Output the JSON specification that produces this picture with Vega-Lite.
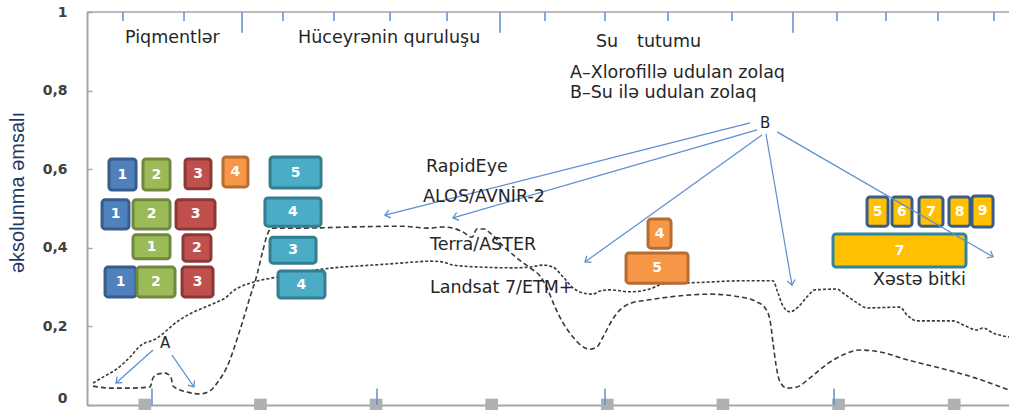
{
  "$schema": "https://vega.github.io/schema/vega-lite/v6.json",
  "width": 922,
  "height": 393,
  "autosize": {"type": "none"},
  "padding": {"left": 87, "top": 12, "right": 0, "bottom": 5},
  "config": {"view": {"stroke": null}},
  "datasets": {
    "spectra": [
      {"s":"a","x":0.052,"y":0.048},{"s":"a","x":0.199,"y":0.043},{"s":"a","x":0.372,"y":0.043},{"s":"a","x":0.545,"y":0.046},{"s":"a","x":0.571,"y":0.069},{"s":"a","x":0.614,"y":0.079},{"s":"a","x":0.675,"y":0.081},{"s":"a","x":0.726,"y":0.071},{"s":"a","x":0.744,"y":0.048},{"s":"a","x":0.865,"y":0.033},{"s":"a","x":0.977,"y":0.028},{"s":"a","x":1.064,"y":0.036},{"s":"a","x":1.133,"y":0.059},{"s":"a","x":1.211,"y":0.097},{"s":"a","x":1.323,"y":0.191},{"s":"a","x":1.410,"y":0.275},{"s":"a","x":1.470,"y":0.331},{"s":"a","x":1.522,"y":0.394},{"s":"a","x":1.565,"y":0.438},{"s":"a","x":1.600,"y":0.450},{"s":"a","x":1.842,"y":0.450},{"s":"a","x":2.275,"y":0.453},{"s":"a","x":2.707,"y":0.455},{"s":"a","x":2.966,"y":0.450},{"s":"a","x":3.079,"y":0.453},{"s":"a","x":3.165,"y":0.450},{"s":"a","x":3.252,"y":0.440},{"s":"a","x":3.330,"y":0.427},{"s":"a","x":3.373,"y":0.448},{"s":"a","x":3.434,"y":0.448},{"s":"a","x":3.485,"y":0.438},{"s":"a","x":3.598,"y":0.405},{"s":"a","x":3.719,"y":0.374},{"s":"a","x":3.831,"y":0.349},{"s":"a","x":3.918,"y":0.328},{"s":"a","x":3.978,"y":0.298},{"s":"a","x":4.048,"y":0.249},{"s":"a","x":4.117,"y":0.209},{"s":"a","x":4.203,"y":0.173},{"s":"a","x":4.290,"y":0.148},{"s":"a","x":4.350,"y":0.142},{"s":"a","x":4.411,"y":0.148},{"s":"a","x":4.463,"y":0.173},{"s":"a","x":4.541,"y":0.216},{"s":"a","x":4.610,"y":0.242},{"s":"a","x":4.714,"y":0.260},{"s":"a","x":4.852,"y":0.267},{"s":"a","x":5.042,"y":0.275},{"s":"a","x":5.388,"y":0.282},{"s":"a","x":5.648,"y":0.275},{"s":"a","x":5.795,"y":0.262},{"s":"a","x":5.864,"y":0.247},{"s":"a","x":5.907,"y":0.216},{"s":"a","x":5.933,"y":0.158},{"s":"a","x":5.959,"y":0.102},{"s":"a","x":5.993,"y":0.059},{"s":"a","x":6.054,"y":0.043},{"s":"a","x":6.141,"y":0.046},{"s":"a","x":6.253,"y":0.069},{"s":"a","x":6.400,"y":0.104},{"s":"a","x":6.556,"y":0.130},{"s":"a","x":6.685,"y":0.140},{"s":"a","x":6.858,"y":0.135},{"s":"a","x":7.092,"y":0.115},{"s":"a","x":7.377,"y":0.094},{"s":"a","x":7.680,"y":0.069},{"s":"a","x":7.974,"y":0.038},
      {"s":"b","x":0.052,"y":0.056},{"s":"b","x":0.156,"y":0.074},{"s":"b","x":0.259,"y":0.092},{"s":"b","x":0.372,"y":0.122},{"s":"b","x":0.458,"y":0.150},{"s":"b","x":0.605,"y":0.170},{"s":"b","x":0.675,"y":0.186},{"s":"b","x":0.744,"y":0.204},{"s":"b","x":0.891,"y":0.232},{"s":"b","x":1.021,"y":0.249},{"s":"b","x":1.124,"y":0.262},{"s":"b","x":1.194,"y":0.272},{"s":"b","x":1.263,"y":0.290},{"s":"b","x":1.410,"y":0.310},{"s":"b","x":1.557,"y":0.321},{"s":"b","x":1.712,"y":0.328},{"s":"b","x":1.929,"y":0.341},{"s":"b","x":2.128,"y":0.349},{"s":"b","x":2.361,"y":0.354},{"s":"b","x":2.621,"y":0.359},{"s":"b","x":2.837,"y":0.364},{"s":"b","x":2.966,"y":0.366},{"s":"b","x":3.079,"y":0.364},{"s":"b","x":3.165,"y":0.356},{"s":"b","x":3.399,"y":0.351},{"s":"b","x":3.684,"y":0.349},{"s":"b","x":3.831,"y":0.351},{"s":"b","x":3.944,"y":0.356},{"s":"b","x":4.030,"y":0.351},{"s":"b","x":4.117,"y":0.326},{"s":"b","x":4.203,"y":0.298},{"s":"b","x":4.290,"y":0.285},{"s":"b","x":4.376,"y":0.282},{"s":"b","x":4.437,"y":0.290},{"s":"b","x":4.523,"y":0.293},{"s":"b","x":4.696,"y":0.288},{"s":"b","x":4.869,"y":0.295},{"s":"b","x":4.982,"y":0.308},{"s":"b","x":5.155,"y":0.310},{"s":"b","x":5.388,"y":0.313},{"s":"b","x":5.648,"y":0.316},{"s":"b","x":5.933,"y":0.316},{"s":"b","x":5.976,"y":0.285},{"s":"b","x":6.019,"y":0.252},{"s":"b","x":6.080,"y":0.237},{"s":"b","x":6.149,"y":0.249},{"s":"b","x":6.227,"y":0.275},{"s":"b","x":6.296,"y":0.293},{"s":"b","x":6.486,"y":0.295},{"s":"b","x":6.538,"y":0.285},{"s":"b","x":6.659,"y":0.260},{"s":"b","x":6.746,"y":0.247},{"s":"b","x":7.031,"y":0.249},{"s":"b","x":7.092,"y":0.229},{"s":"b","x":7.178,"y":0.214},{"s":"b","x":7.490,"y":0.214},{"s":"b","x":7.576,"y":0.204},{"s":"b","x":7.697,"y":0.191},{"s":"b","x":7.749,"y":0.196},{"s":"b","x":7.836,"y":0.183},{"s":"b","x":7.974,"y":0.173}
    ],
    "topTicks": [
      {"x":0.311,"g":"minor"},{"x":0.839,"g":"minor"},{"x":1.341,"g":"major"},{"x":1.695,"g":"minor"},{"x":2.136,"g":"minor"},{"x":2.621,"g":"minor"},{"x":3.114,"g":"minor"},{"x":3.572,"g":"major"},{"x":3.961,"g":"minor"},{"x":4.480,"g":"minor"},{"x":5.025,"g":"minor"},{"x":5.578,"g":"minor"},{"x":6.106,"g":"major"},{"x":6.486,"g":"minor"},{"x":6.910,"g":"minor"},{"x":7.360,"g":"minor"},{"x":7.844,"g":"minor"}
    ],
    "bottomTicks": [{"x":0.562},{"x":2.508},{"x":4.480},{"x":6.461}],
    "markers": [{"x":0.5},{"x":1.5},{"x":2.5},{"x":3.5},{"x":4.5},{"x":5.5},{"x":6.5},{"x":7.5}],
    "boxes": [
      {"x1":0.190,"x2":0.424,"y1":0.547,"y2":0.626,"label":"1","band":"blue"},
      {"x1":0.484,"x2":0.718,"y1":0.547,"y2":0.626,"label":"2","band":"green"},
      {"x1":0.848,"x2":1.072,"y1":0.550,"y2":0.626,"label":"3","band":"red"},
      {"x1":1.176,"x2":1.392,"y1":0.555,"y2":0.631,"label":"4","band":"orange"},
      {"x1":1.583,"x2":2.024,"y1":0.552,"y2":0.631,"label":"5","band":"nir"},
      {"x1":0.130,"x2":0.363,"y1":0.448,"y2":0.522,"label":"1","band":"blue"},
      {"x1":0.398,"x2":0.718,"y1":0.448,"y2":0.522,"label":"2","band":"green"},
      {"x1":0.770,"x2":1.107,"y1":0.448,"y2":0.522,"label":"3","band":"red"},
      {"x1":1.539,"x2":2.024,"y1":0.455,"y2":0.527,"label":"4","band":"nir"},
      {"x1":0.398,"x2":0.718,"y1":0.372,"y2":0.433,"label":"1","band":"green"},
      {"x1":0.830,"x2":1.072,"y1":0.366,"y2":0.433,"label":"2","band":"red"},
      {"x1":1.583,"x2":1.981,"y1":0.361,"y2":0.427,"label":"3","band":"nir"},
      {"x1":0.156,"x2":0.424,"y1":0.275,"y2":0.351,"label":"1","band":"blue"},
      {"x1":0.432,"x2":0.761,"y1":0.275,"y2":0.351,"label":"2","band":"green"},
      {"x1":0.822,"x2":1.090,"y1":0.275,"y2":0.351,"label":"3","band":"red"},
      {"x1":1.652,"x2":2.058,"y1":0.272,"y2":0.341,"label":"4","band":"nir"},
      {"x1":4.852,"x2":5.051,"y1":0.399,"y2":0.473,"label":"4","band":"orange"},
      {"x1":4.662,"x2":5.198,"y1":0.310,"y2":0.387,"label":"5","band":"orange"},
      {"x1":6.452,"x2":7.602,"y1":0.351,"y2":0.435,"label":"7","band":"swir"},
      {"x1":6.746,"x2":6.928,"y1":0.455,"y2":0.529,"label":"5","band":"swir-aster"},
      {"x1":6.962,"x2":7.135,"y1":0.455,"y2":0.529,"label":"6","band":"swir-aster"},
      {"x1":7.196,"x2":7.403,"y1":0.455,"y2":0.529,"label":"7","band":"swir-aster"},
      {"x1":7.455,"x2":7.637,"y1":0.455,"y2":0.529,"label":"8","band":"swir-aster"},
      {"x1":7.654,"x2":7.836,"y1":0.453,"y2":0.532,"label":"9","band":"swir-aster"}
    ],
    "arrows": [
      {"x1":5.734,"y1":0.718,"x2":2.577,"y2":0.483},
      {"x1":5.795,"y1":0.700,"x2":3.165,"y2":0.476},
      {"x1":5.838,"y1":0.687,"x2":4.307,"y2":0.364},
      {"x1":5.872,"y1":0.690,"x2":6.097,"y2":0.305},
      {"x1":5.968,"y1":0.695,"x2":7.836,"y2":0.377},
      {"x1":0.571,"y1":0.140,"x2":0.251,"y2":0.056},
      {"x1":0.735,"y1":0.127,"x2":0.925,"y2":0.046}
    ],
    "labels": [
      {"x":0.329,"y":0.921,"text":"Piqmentlər"},
      {"x":1.825,"y":0.921,"text":"Hüceyrənin quruluşu"},
      {"x":4.402,"y":0.911,"text":"Su"},
      {"x":4.757,"y":0.911,"text":"tutumu"},
      {"x":4.177,"y":0.832,"text":"A–Xlorofillə udulan zolaq"},
      {"x":4.177,"y":0.781,"text":"B–Su ilə udulan zolaq"},
      {"x":2.932,"y":0.593,"text":"RapidEye"},
      {"x":2.906,"y":0.517,"text":"ALOS/AVNİR-2"},
      {"x":2.966,"y":0.394,"text":"Terra/ASTER"},
      {"x":2.966,"y":0.285,"text":"Landsat 7/ETM+"},
      {"x":6.798,"y":0.305,"text":"Xəstə bitki"}
    ],
    "letters": [
      {"x":5.821,"y":0.705,"text":"B"},
      {"x":0.631,"y":0.145,"text":"A"}
    ],
    "frame": [{"top": 1}]
  },
  "layer": [
    {
      "data": {"name": "spectra"},
      "mark": {"type": "line", "interpolate": "monotone", "color": "#3a3a3a", "strokeWidth": 1.6},
      "encoding": {
        "x": {"field": "x", "type": "quantitative", "scale": {"domain": [0, 7.974], "nice": false, "zero": false},
              "axis": {"title": null, "labels": false, "ticks": false, "grid": false, "domainColor": "#a6a6a6", "domainWidth": 2}},
        "y": {"field": "y", "type": "quantitative", "scale": {"domain": [0, 1], "nice": false},
              "axis": {"title": "əksolunma əmsalı", "grid": false,
                       "values": [0,0.05,0.1,0.15,0.2,0.25,0.3,0.35,0.4,0.45,0.5,0.55,0.6,0.65,0.7,0.75,0.8,0.85,0.9,0.95,1],
                       "labelExpr": "round(datum.value*20)%4==0 ? replace(format(datum.value,'~g'),'.',',') : ''",
                       "labelBaseline": {"condition": {"test": "datum.value == 0", "value": "bottom"}, "value": "middle"},
                       "labelOverlap": false, "labelFont": "DejaVu Sans", "labelFontSize": 14, "labelColor": "#404040", "labelFontWeight": "bold",
                       "domainColor": "#a6a6a6", "domainWidth": 2, "tickColor": "#a6a6a6", "tickSize": -5, "tickWidth": 1.5, "labelPadding": 25,
                       "titleFont": "Liberation Sans", "titleFontSize": 20, "titleFontWeight": "normal", "titleColor": "#1f3864",
                       "titleAngle": -90, "titleX": -70, "titleY": 180, "titleAlign": "center", "titleBaseline": "middle"}},
        "detail": {"field": "s"},
        "strokeDash": {"field": "s", "type": "nominal", "scale": {"domain": ["a","b"], "range": [[5,3],[3,2]]}, "legend": null}
      }
    },
    {
      "data": {"name": "frame"},
      "mark": {"type": "rule", "color": "#a6a6a6", "strokeWidth": 1.5},
      "encoding": {"y": {"field": "top", "type": "quantitative"}}
    },
    {
      "data": {"name": "topTicks"},
      "transform": [{"filter": "datum.g == 'minor'"}],
      "mark": {"type": "rule", "color": "#5b8fd0", "strokeWidth": 1.5},
      "encoding": {
        "x": {"field": "x", "type": "quantitative"},
        "y": {"datum": 1, "type": "quantitative"},
        "y2": {"datum": 0.977}
      }
    },
    {
      "data": {"name": "topTicks"},
      "transform": [{"filter": "datum.g == 'major'"}],
      "mark": {"type": "rule", "color": "#5b8fd0", "strokeWidth": 1.5},
      "encoding": {
        "x": {"field": "x", "type": "quantitative"},
        "y": {"datum": 1, "type": "quantitative"},
        "y2": {"datum": 0.947}
      }
    },
    {
      "data": {"name": "markers"},
      "mark": {"type": "point", "shape": "square", "filled": true, "color": "#b0b0b0", "opacity": 1, "size": 160},
      "encoding": {
        "x": {"field": "x", "type": "quantitative"},
        "y": {"datum": 0, "type": "quantitative"}
      }
    },
    {
      "data": {"name": "bottomTicks"},
      "mark": {"type": "rule", "color": "#5b8fd0", "strokeWidth": 1.5},
      "encoding": {
        "x": {"field": "x", "type": "quantitative"},
        "y": {"datum": 0, "type": "quantitative"},
        "y2": {"datum": 0.042}
      }
    },
    {
      "data": {"name": "boxes"},
      "mark": {"type": "rect", "strokeWidth": 3, "cornerRadius": 3},
      "encoding": {
        "x": {"field": "x1", "type": "quantitative"},
        "x2": {"field": "x2"},
        "y": {"field": "y1", "type": "quantitative"},
        "y2": {"field": "y2"},
        "fill": {"field": "band", "type": "nominal", "legend": null,
                 "scale": {"domain": ["blue","green","red","orange","nir","swir","swir-aster"],
                           "range": ["#4f81bd","#9bbb59","#c0504d","#f79646","#4bacc6","#ffc000","#ffc000"]}},
        "stroke": {"field": "band", "type": "nominal", "legend": null,
                   "scale": {"domain": ["blue","green","red","orange","nir","swir","swir-aster"],
                             "range": ["#385d8a","#71893f","#8c3836","#b66d31","#357d91","#31859c","#385d8a"]}}
      }
    },
    {
      "data": {"name": "boxes"},
      "transform": [{"calculate": "(datum.x1+datum.x2)/2", "as": "xc"}, {"calculate": "(datum.y1+datum.y2)/2", "as": "yc"}],
      "mark": {"type": "text", "color": "white", "font": "DejaVu Sans", "fontSize": 14, "fontWeight": "bold", "align": "center", "baseline": "middle"},
      "encoding": {
        "x": {"field": "xc", "type": "quantitative"},
        "y": {"field": "yc", "type": "quantitative"},
        "text": {"field": "label"}
      }
    },
    {
      "data": {"name": "arrows"},
      "mark": {"type": "rule", "color": "#5b8fd0", "strokeWidth": 1.2},
      "encoding": {
        "x": {"field": "x1", "type": "quantitative"},
        "y": {"field": "y1", "type": "quantitative"},
        "x2": {"field": "x2"},
        "y2": {"field": "y2"}
      }
    },
    {
      "data": {"name": "arrows"},
      "transform": [{"calculate": "atan2((datum.y1-datum.y2)*393, (datum.x2-datum.x1)*115.625)*180/PI", "as": "angle"}],
      "mark": {"type": "point", "shape": "M-1,-0.8L0,0L-1,0.8", "filled": false, "color": "#5b8fd0", "strokeWidth": 1.3, "size": 100, "opacity": 1},
      "encoding": {
        "x": {"field": "x2", "type": "quantitative"},
        "y": {"field": "y2", "type": "quantitative"},
        "angle": {"field": "angle", "type": "quantitative", "scale": null}
      }
    },
    {
      "data": {"name": "labels"},
      "mark": {"type": "text", "align": "left", "baseline": "alphabetic", "font": "DejaVu Sans", "fontSize": 17.5, "color": "#262626"},
      "encoding": {
        "x": {"field": "x", "type": "quantitative"},
        "y": {"field": "y", "type": "quantitative"},
        "text": {"field": "text"}
      }
    },
    {
      "data": {"name": "letters"},
      "mark": {"type": "text", "align": "left", "baseline": "alphabetic", "font": "DejaVu Sans", "fontSize": 15, "color": "#262626"},
      "encoding": {
        "x": {"field": "x", "type": "quantitative"},
        "y": {"field": "y", "type": "quantitative"},
        "text": {"field": "text"}
      }
    }
  ]
}
